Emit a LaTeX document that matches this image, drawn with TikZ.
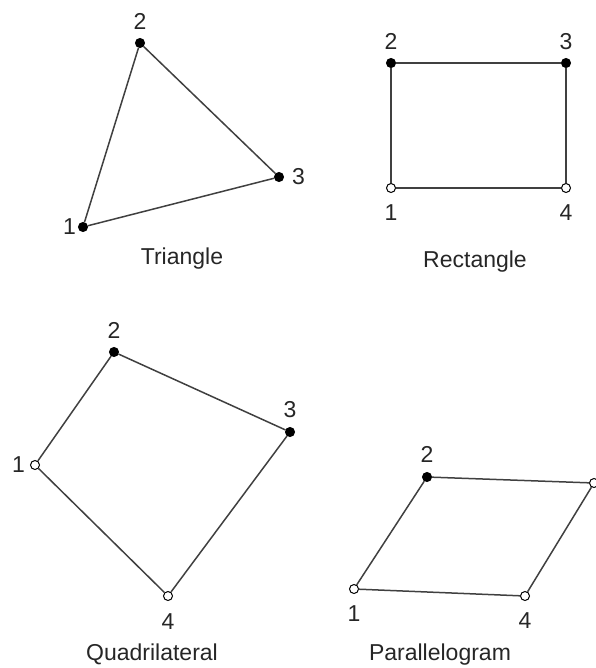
\documentclass[tikz,border=0pt]{standalone}
\usepackage{fontspec}
\setmainfont{Liberation Sans}
\usetikzlibrary{positioning}

\begin{document}
\begin{tikzpicture}[
    x=1pt, y=-1pt,
    font=\fontsize{23}{27}\selectfont,
    vtx/.style={circle, draw=black, line width=1pt, inner sep=0pt, minimum size=9pt},
    fnode/.style={vtx, fill=black},
    onode/.style={vtx, fill=white},
    num/.style={inner sep=0pt, text=black!85},
    shapename/.style={anchor=base, inner sep=0pt, text=black!85},
    side/.style={draw=black!75, line width=1.5pt}
]
  \useasboundingbox (0,0) rectangle (595,668);

  \node[fnode] (t1) at (83,227) {};
  \node[fnode] (t2) at (140,43) {};
  \node[fnode] (t3) at (279,177) {};
  \node[num, left=2pt of t1] (t1n) {1};
  \node[num, above=8pt of t2] (t2n) {2};
  \node[num, right=8pt of t3] (t3n) {3};
  \node[shapename] (tname) at (182,264) {Triangle};

  \node[onode] (r1) at (391,188) {};
  \node[fnode] (r2) at (391,63) {};
  \node[fnode] (r3) at (566,63) {};
  \node[onode] (r4) at (566,188) {};
  \node[num, below=11pt of r1] (r1n) {1};
  \node[num, above=8pt of r2] (r2n) {2};
  \node[num, above=8pt of r3] (r3n) {3};
  \node[num, below=11pt of r4] (r4n) {4};
  \node[shapename] (rname) at (475,267) {Rectangle};

  \node[onode] (q1) at (35,465) {};
  \node[fnode] (q2) at (114,352) {};
  \node[fnode] (q3) at (290,432) {};
  \node[onode] (q4) at (168,596) {};
  \node[num, left=5pt of q1] (q1n) {1};
  \node[num, above=8pt of q2] (q2n) {2};
  \node[num, above=9pt of q3] (q3n) {3};
  \node[num, below=12pt of q4] (q4n) {4};
  \node[shapename] (qname) at (152,660) {Quadrilateral};

  \node[onode] (p1) at (354,589) {};
  \node[fnode] (p2) at (427,477) {};
  \node[onode] (p3) at (594,483) {};
  \node[onode] (p4) at (525,596) {};
  \node[num, below=11pt of p1] (p1n) {1};
  \node[num, above=9pt of p2] (p2n) {2};
  \node[num, above right=7pt and 1pt of p3] (p3n) {3};
  \node[num, below=11pt of p4] (p4n) {4};
  \node[shapename] (pname) at (440,660) {Parallelogram};

  \draw[side] (t1) -- (t2) -- (t3) -- (t1);
  \draw[side] (r1) -- (r2) -- (r3) -- (r4) -- (r1);
  \draw[side] (q1) -- (q2) -- (q3) -- (q4) -- (q1);
  \draw[side] (p1) -- (p2) -- (p3) -- (p4) -- (p1);
\end{tikzpicture}
\end{document}
